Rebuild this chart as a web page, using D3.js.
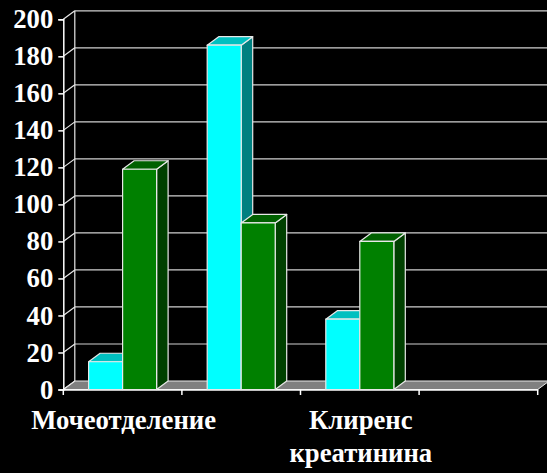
<!DOCTYPE html>
<html>
<head>
<meta charset="utf-8">
<script src="https://cdn.jsdelivr.net/npm/d3@7"></script>
<style>
  body { margin: 0; background: #000; }
  svg { display: block; }
</style>
</head>
<body>
<script>
// categories (2nd and 4th labels are not shown in the picture)
var categories = ['Мочеотделение', '', 'Клиренс креатинина', '']
var seriesNames = ['Ряд 1', 'Ряд 2']
var cyanValues = [15, 186, 38, 0]
var greenValues = [119, 90, 80, 0]
var yTicks = [0, 20, 40, 60, 80, 100, 120, 140, 160, 180, 200]

const w = 547
const h = 473
const dx = 11.5
const dy = -8.5
var frontColors = ['#00ffff', '#008000']
var topColors = ['#00c0c0', '#006000']
var sideColors = ['#008080', '#004000']

function serif(sel) {
  sel.style('font-family', "'Liberation Serif'")
    .style('font-weight', 'bold')
    .style('font-size', '26.7px')
    .attr('fill', '#fff')
}

var svg = d3.select('body').append('svg')
  .attr('width', w)
  .attr('height', h)
  .style('background', '#000')

var x0 = d3.scaleBand()
  .domain(d3.range(categories.length))
  .range([63.3, 537.7])

var x1 = d3.scaleBand()
  .domain(seriesNames)
  .range([0, x0.bandwidth()])
  .paddingOuter(0.744)

var y = d3.scaleLinear()
  .domain([0, 200])
  .range([389.5, 19.3])

var left = x0.range()[0]
var right = x0.range()[1]

// floor
svg.append('polygon')
  .attr('points', [[left, y(0)], [right, y(0)], [right + dx, y(0) + dy], [left + dx, y(0) + dy]].join(' '))
  .attr('fill', '#808080')
  .attr('stroke', '#e8e8e8')
  .attr('stroke-width', 1)

// back wall gridlines
svg.selectAll('.grid')
  .data(yTicks.filter(d => d > 0))
  .enter().append('line')
  .attr('x1', left + dx)
  .attr('x2', right + dx)
  .attr('y1', d => y(d) + dy)
  .attr('y2', d => y(d) + dy)
  .attr('stroke', '#d0d0d0')
  .attr('stroke-width', 1.2)

// left wall
svg.selectAll('.wall')
  .data(yTicks)
  .enter().append('line')
  .attr('x1', left)
  .attr('x2', left + dx)
  .attr('y1', d => y(d))
  .attr('y2', d => y(d) + dy)
  .attr('stroke', '#e8e8e8')
  .attr('stroke-width', 1.2)

svg.append('line')
  .attr('x1', left + dx).attr('x2', left + dx)
  .attr('y1', y(0) + dy).attr('y2', y(200) + dy)
  .attr('stroke', '#e8e8e8').attr('stroke-width', 1.2)

// y axis
var yAxis = d3.axisLeft(y).tickValues(yTicks).tickSize(5).tickPadding(5)
var gy = svg.append('g')
  .attr('transform', 'translate(' + left + ',0)')
  .call(yAxis)
gy.select('.domain').attr('stroke', '#fff').attr('stroke-width', 1.5)
gy.selectAll('.tick line').attr('stroke', '#fff').attr('stroke-width', 1.5)
gy.selectAll('.tick text').call(serif)

// x axis
var xAxis = d3.axisBottom(x0).tickValues([]).tickSizeOuter(0)
var gx = svg.append('g')
  .attr('transform', 'translate(0,' + y(0) + ')')
  .call(xAxis)
gx.select('.domain').attr('stroke', '#fff').attr('stroke-width', 1.5)
gx.selectAll('.sep')
  .data(d3.range(categories.length + 1))
  .enter().append('line')
  .attr('x1', i => i < categories.length ? x0(i) : right)
  .attr('x2', i => i < categories.length ? x0(i) : right)
  .attr('y1', 0).attr('y2', 5.5)
  .attr('stroke', '#fff').attr('stroke-width', 1.5)

// bars
var values = [cyanValues, greenValues]
var bars = []
categories.forEach((c, i) => {
  seriesNames.forEach((s, j) => {
    if (values[j][i] > 0) bars.push({ cat: i, s: s, j: j, v: values[j][i] })
  })
})

var g = svg.selectAll('.bar')
  .data(bars)
  .enter().append('g')

function face(d, kind) {
  var xa = x0(d.cat) + x1(d.s)
  var xb = xa + x1.bandwidth()
  var yt = y(d.v)
  var yb = y(0)
  if (kind === 'front') return [[xa, yt], [xb, yt], [xb, yb], [xa, yb]].join(' ')
  if (kind === 'top') return [[xa, yt], [xa + dx, yt + dy], [xb + dx, yt + dy], [xb, yt]].join(' ')
  return [[xb, yt], [xb + dx, yt + dy], [xb + dx, yb + dy], [xb, yb]].join(' ')
}

g.append('polygon')
  .attr('points', d => face(d, 'side'))
  .attr('fill', d => sideColors[d.j])
g.append('polygon')
  .attr('points', d => face(d, 'top'))
  .attr('fill', d => topColors[d.j])
g.append('polygon')
  .attr('points', d => face(d, 'front'))
  .attr('fill', d => frontColors[d.j])
g.selectAll('polygon')
  .attr('stroke', '#e8e8e8')
  .attr('stroke-width', 1.2)
  .attr('stroke-linejoin', 'round')

// category labels
svg.selectAll('.lbl')
  .data(categories.map((c, i) => ({ c: c, i: i })).filter(d => d.c))
  .enter().append('text')
  .call(serif)
  .attr('x', d => x0(d.i) + x0.bandwidth() / 2)
  .attr('y', 429)
  .attr('text-anchor', 'middle')
  .each(function(d) {
    var words = d.c.split(' ')
    d3.select(this).selectAll('tspan')
      .data(words)
      .enter().append('tspan')
      .attr('x', x0(d.i) + x0.bandwidth() / 2 + 1)
      .attr('dy', (wd, k) => k === 0 ? 0 : 32.5)
      .text(wd => wd)
  })
</script>
</body>
</html>
